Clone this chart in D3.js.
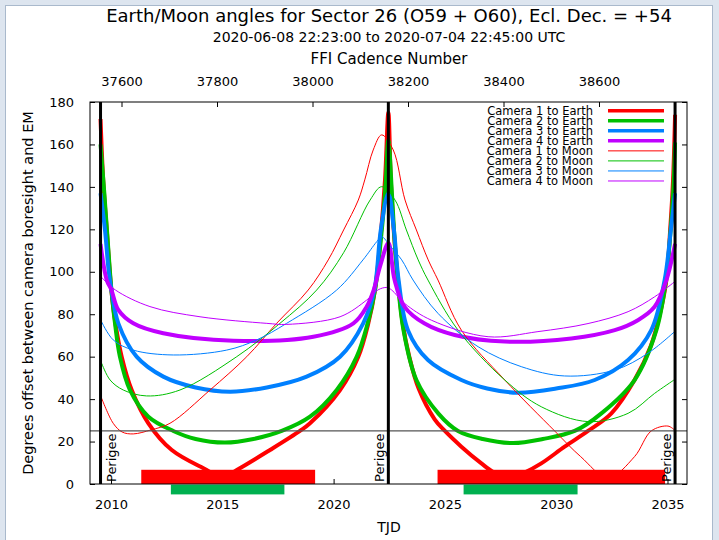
<!DOCTYPE html>
<html>
<head>
<meta charset="utf-8">
<script src="https://cdn.jsdelivr.net/npm/d3@7/dist/d3.min.js"></script>
<style>
body { margin: 0; background: #dde5ef; }
svg text { font-family: "DejaVu Sans", sans-serif; fill: #000; }
.axis line { stroke: #000; }
</style>
</head>
<body>
<script>
// values, [TJD, degrees]
var perigees = [2009.53, 2022.46, 2035.34];

var earthCam1 = [[2009.53,172],[2009.65,143.3],[2009.81,119.7],[2010.01,92],[2010.20,75.7],[2010.48,60.0],[2010.93,44.3],[2011.68,28.6],[2012.73,16.0],[2014.30,6.6],[2014.97,3],[2015.65,6.6],[2017.14,16.0],[2018.49,25.0],[2018.94,28.6],[2020.29,44.3],[2021.11,60.0],[2021.56,75.7],[2021.86,91.4],[2022.10,115],[2022.31,143.3],[2022.46,175],
  [2022.57,143.3],[2022.70,119.7],[2022.89,96.1],[2023.10,76],[2023.40,60],[2023.82,45],[2024.54,30.5],[2025.00,25],[2025.74,17.6],[2026.64,9.7],[2027.20,5.5],[2027.95,3],[2028.60,5.5],[2029.33,9.7],[2030.38,17.6],[2031.43,25.0],[2032.48,33.3],[2033.52,49.0],[2034.25,65],[2034.70,82],[2034.95,96.1],[2035.12,119.7],[2035.25,143.3],[2035.34,174]];
var earthCam2 = [[2009.53,160],[2009.70,137],[2009.85,115],[2010.02,91.4],[2010.18,75.7],[2010.40,60.0],[2010.85,44.3],[2011.68,31.7],[2012.80,25.0],[2013.80,21.2],[2015.12,19.5],[2016.40,21.2],[2017.67,25.0],[2018.94,31.7],[2020.14,44.3],[2021.04,60.0],[2021.53,75.7],[2021.86,91.4],[2022.15,118],[2022.33,140],[2022.46,162],
  [2022.62,137],[2022.74,115],[2022.88,96.1],[2023.14,72.5],[2023.72,49.0],[2024.70,33.3],[2025.59,25.0],[2026.70,21.2],[2028.06,19.3],[2029.40,21.2],[2030.83,25.0],[2032.03,33.3],[2033.52,49.0],[2034.50,72.5],[2034.93,96.1],[2035.14,119.7],[2035.27,140],[2035.34,161]];
var earthCam3 = [[2009.53,137],[2009.73,119.7],[2009.90,100],[2010.02,91.4],[2010.33,75.7],[2011.15,60.0],[2012.35,50.6],[2013.80,45.5],[2015.35,43.5],[2017.00,45.5],[2018.79,50.6],[2020.29,60.0],[2021.33,75.7],[2021.83,91.4],[2022.12,119.7],[2022.46,137],
  [2022.71,119.7],[2022.92,96.1],[2023.34,72.5],[2024.24,58.4],[2025.74,49.0],[2026.90,45.0],[2028.28,43.0],[2030.00,45.0],[2031.73,49.0],[2033.23,58.4],[2034.27,72.5],[2034.87,96.1],[2035.15,119.7],[2035.34,137]];
var earthCam4 = [[2009.53,113.1],[2009.81,96.1],[2010.02,91.4],[2010.33,82.0],[2011.00,75.7],[2012.35,71.0],[2015.50,67.5],[2019.09,69.4],[2020.89,75.7],[2021.49,83.6],[2021.80,91.4],[2022.10,103],[2022.46,113.6],
  [2022.74,96.1],[2023.19,83.5],[2024.09,75.6],[2025.44,70.2],[2027.69,67.1],[2030.68,68.6],[2032.63,72.5],[2033.67,77.2],[2034.42,83.5],[2034.95,96.1],[2035.34,113.1]];

var moonCam1 = [[2009.58,40.4],[2010.10,28.6],[2010.50,24.5],[2011.00,23.6],[2011.80,25.5],[2012.65,28.6],[2014.45,44.3],[2016.10,60.0],[2017.44,75.7],[2018.86,91.4],[2019.76,105.6],[2020.45,119.7],[2021.11,133.8],[2021.40,143.3],[2021.78,157.4],[2022.16,164.5],
  [2022.68,157.4],[2023.21,133.8],[2023.72,119.7],[2024.25,105.6],[2024.69,96.1],[2025.74,72.5],[2027.69,49.0],[2029.93,25.0],[2031.10,12.9],[2032.33,3],[2033.52,12.9],[2034.27,25.0],[2035.02,27.3],[2035.32,25.4]];
var moonCam2 = [[2009.58,56.9],[2009.96,49.0],[2010.55,44.3],[2011.60,41.5],[2013.10,44.3],[2015.65,60.0],[2017.59,75.7],[2019.24,91.4],[2020.45,109],[2021.64,133.8],[2022.16,140.1],
  [2022.76,133.8],[2023.27,119.7],[2023.80,105.6],[2024.24,96.1],[2025.59,72.5],[2027.69,49.0],[2029.33,36.4],[2031.43,29.4],[2033.23,33.3],[2034.42,42.7],[2035.29,49.0]];
var moonCam3 = [[2009.55,77],[2010.10,67.9],[2011.00,63.1],[2012.80,60.8],[2015.20,63.1],[2016.55,67.9],[2017.89,75.7],[2020.14,91.4],[2021.32,105.6],[2021.94,114.2],[2022.16,116.5],
  [2022.55,112],[2023.06,105.6],[2023.57,96.1],[2024.69,80.4],[2026.49,64.7],[2028.43,55.3],[2030.38,50.9],[2032.63,53.7],[2034.12,61.6],[2035.32,71.8]];
var moonCam4 = [[2009.55,97.7],[2010.20,91.4],[2011.75,83.6],[2014.00,78.8],[2017.00,75.7],[2017.90,75.2],[2020.29,78.8],[2021.49,86.7],[2022.00,91.5],[2022.39,92.6],
  [2022.60,91.5],[2023.19,85.1],[2024.39,77.2],[2026.94,69.4],[2029.18,71.8],[2031.43,75.6],[2033.23,81.2],[2034.42,88.2],[2035.32,95.3]];

// red/green bars at the bottom: [start TJD, end TJD]
var redBars = [[2011.36, 2019.17], [2024.67, 2034.89]];
var greenBars = [[2012.69, 2017.79], [2025.84, 2030.96]];

var tjdTicks = [2010, 2015, 2020, 2025, 2030, 2035];
var cadenceTicks = [37600, 37800, 38000, 38200, 38400, 38600];
var degTicks = [0, 20, 40, 60, 80, 100, 120, 140, 160, 180];
var limitLine = 25;

var series = [
  {name: "Camera 1 to Earth", data: earthCam1, color: "#ff0000", w: 4},
  {name: "Camera 2 to Earth", data: earthCam2, color: "#00c000", w: 4},
  {name: "Camera 3 to Earth", data: earthCam3, color: "#0080ff", w: 4},
  {name: "Camera 4 to Earth", data: earthCam4, color: "#c000ff", w: 4},
  {name: "Camera 1 to Moon", data: moonCam1, color: "#ff0000", w: 1},
  {name: "Camera 2 to Moon", data: moonCam2, color: "#00c000", w: 1},
  {name: "Camera 3 to Moon", data: moonCam3, color: "#0080ff", w: 1},
  {name: "Camera 4 to Moon", data: moonCam4, color: "#c000ff", w: 1}
];

var W = 719, H = 540;
var pL = 90, pR = 687, pT = 102, pB = 484;

var svg = d3.select("body").append("svg")
    .attr("width", W)
    .attr("height", H)
    .style("display", "block");

// window frame
svg.append("rect").attr("x", 0).attr("y", 0).attr("width", W).attr("height", H).attr("fill", "#dde5ef");
svg.append("rect").attr("x", 5.5).attr("y", 5.5).attr("width", 707).attr("height", H)
    .attr("fill", "#fff").attr("stroke", "#a9b9cc");

var x = d3.scaleLinear().domain([2009.057, 2035.876]).range([pL, pR]);
var x2 = d3.scaleLinear().domain([37534, 38784.3]).range([pL, pR]);
var y = d3.scaleLinear().domain([0, 180]).range([pB, pT]);

svg.append("defs").append("clipPath").attr("id", "plotclip")
  .append("rect").attr("x", pL).attr("y", pT).attr("width", pR - pL).attr("height", pB - pT);

// axes, ticks pointing inwards
svg.append("g").attr("class", "axis")
    .attr("transform", "translate(" + pL + ",0)")
    .call(d3.axisLeft(y).tickValues(degTicks).tickSize(-5).tickSizeOuter(0).tickPadding(16))
    .call(function(g) { g.select(".domain").remove(); });
svg.append("g").attr("class", "axis")
    .attr("transform", "translate(" + pR + ",0)")
    .call(d3.axisRight(y).tickValues(degTicks).tickSize(-5).tickSizeOuter(0).tickFormat(""))
    .call(function(g) { g.select(".domain").remove(); });
svg.append("g").attr("class", "axis")
    .attr("transform", "translate(0," + pB + ")")
    .call(d3.axisBottom(x).tickValues(tjdTicks).tickSize(-5).tickSizeOuter(0).tickPadding(16).tickFormat(d3.format("d")))
    .call(function(g) { g.select(".domain").remove(); });
svg.append("g").attr("class", "axis")
    .attr("transform", "translate(0," + pT + ")")
    .call(d3.axisTop(x2).tickValues(cadenceTicks).tickSize(-5).tickSizeOuter(0).tickPadding(16).tickFormat(d3.format("d")))
    .call(function(g) { g.select(".domain").remove(); });
svg.selectAll(".axis text").attr("font-size", 13).attr("font-family", "DejaVu Sans");

// curves
var line = d3.line()
    .x(function(d) { return x(d[0]); })
    .y(function(d) { return y(d[1]); })
    .curve(d3.curveCatmullRom.alpha(0.5));

var plot = svg.append("g").attr("clip-path", "url(#plotclip)");
plot.selectAll(".curve")
    .data(series)
  .enter().append("path")
    .attr("class", "curve")
    .attr("d", function(d) { return line(d.data); })
    .attr("fill", "none")
    .attr("stroke", function(d) { return d.color; })
    .attr("stroke-width", function(d) { return d.w; })
    .attr("stroke-linejoin", "round");

// bars
svg.selectAll(".redbar")
    .data(redBars)
  .enter().append("rect")
    .attr("x", function(d) { return x(d[0]); })
    .attr("width", function(d) { return x(d[1]) - x(d[0]); })
    .attr("y", y(6.7))
    .attr("height", y(0) - y(6.7))
    .attr("fill", "#ff0000");
svg.selectAll(".greenbar")
    .data(greenBars)
  .enter().append("rect")
    .attr("x", function(d) { return x(d[0]); })
    .attr("width", function(d) { return x(d[1]) - x(d[0]); })
    .attr("y", y(-0.3))
    .attr("height", y(-4.9) - y(-0.3))
    .attr("fill", "#00b050");

// 25 degree line
svg.append("line")
    .attr("x1", pL).attr("x2", pR)
    .attr("y1", y(limitLine)).attr("y2", y(limitLine))
    .attr("stroke", "#555").attr("stroke-width", 1.2);

// perigees
svg.selectAll(".perigee")
    .data(perigees)
  .enter().append("line")
    .attr("x1", function(d) { return x(d); })
    .attr("x2", function(d) { return x(d); })
    .attr("y1", pT).attr("y2", pB)
    .attr("stroke", "#000").attr("stroke-width", 3);
svg.selectAll(".perigeeLabel")
    .data(perigees)
  .enter().append("text")
    .attr("transform", function(d, i) {
      var px = i == 0 ? x(d) + 15 : x(d) - 4;
      return "translate(" + px + "," + (pB - 2) + ")rotate(-90)";
    })
    .attr("font-size", 13)
    .text("Perigee");

// frame
svg.append("rect")
    .attr("x", pL).attr("y", pT)
    .attr("width", pR - pL).attr("height", pB - pT)
    .attr("fill", "none").attr("stroke", "#000").attr("stroke-width", 1);

// legend
var legend = svg.append("g");
var rows = legend.selectAll("g")
    .data(series)
  .enter().append("g")
    .attr("transform", function(d, i) { return "translate(0," + (110.7 + i * 10.04) + ")"; });
rows.append("text")
    .attr("x", 593)
    .attr("dy", "0.35em")
    .attr("text-anchor", "end")
    .attr("font-size", 11.5)
    .attr("fill", "#000")
    .text(function(d) { return d.name; });
rows.append("line")
    .attr("x1", 608).attr("x2", 664)
    .attr("stroke", function(d) { return d.color; })
    .attr("stroke-width", function(d) { return d.w == 4 ? 3.5 : 1; });

// titles
svg.append("text")
    .attr("x", 389).attr("y", 22)
    .attr("text-anchor", "middle")
    .attr("font-size", 18)
    .text("Earth/Moon angles for Sector 26 (O59 + O60), Ecl. Dec. = +54");
svg.append("text")
    .attr("x", 389).attr("y", 42)
    .attr("text-anchor", "middle")
    .attr("font-size", 14)
    .text("2020-06-08 22:23:00 to 2020-07-04 22:45:00 UTC");
svg.append("text")
    .attr("x", 389).attr("y", 64)
    .attr("text-anchor", "middle")
    .attr("font-size", 15)
    .text("FFI Cadence Number");
svg.append("text")
    .attr("x", 389).attr("y", 532)
    .attr("text-anchor", "middle")
    .attr("font-size", 14)
    .text("TJD");
svg.append("text")
    .attr("text-anchor", "middle")
    .attr("transform", "translate(33," + ((pT + pB) / 2) + ")rotate(-90)")
    .attr("font-size", 14.5)
    .text("Degrees offset between camera boresight and EM");
</script>
</body>
</html>
